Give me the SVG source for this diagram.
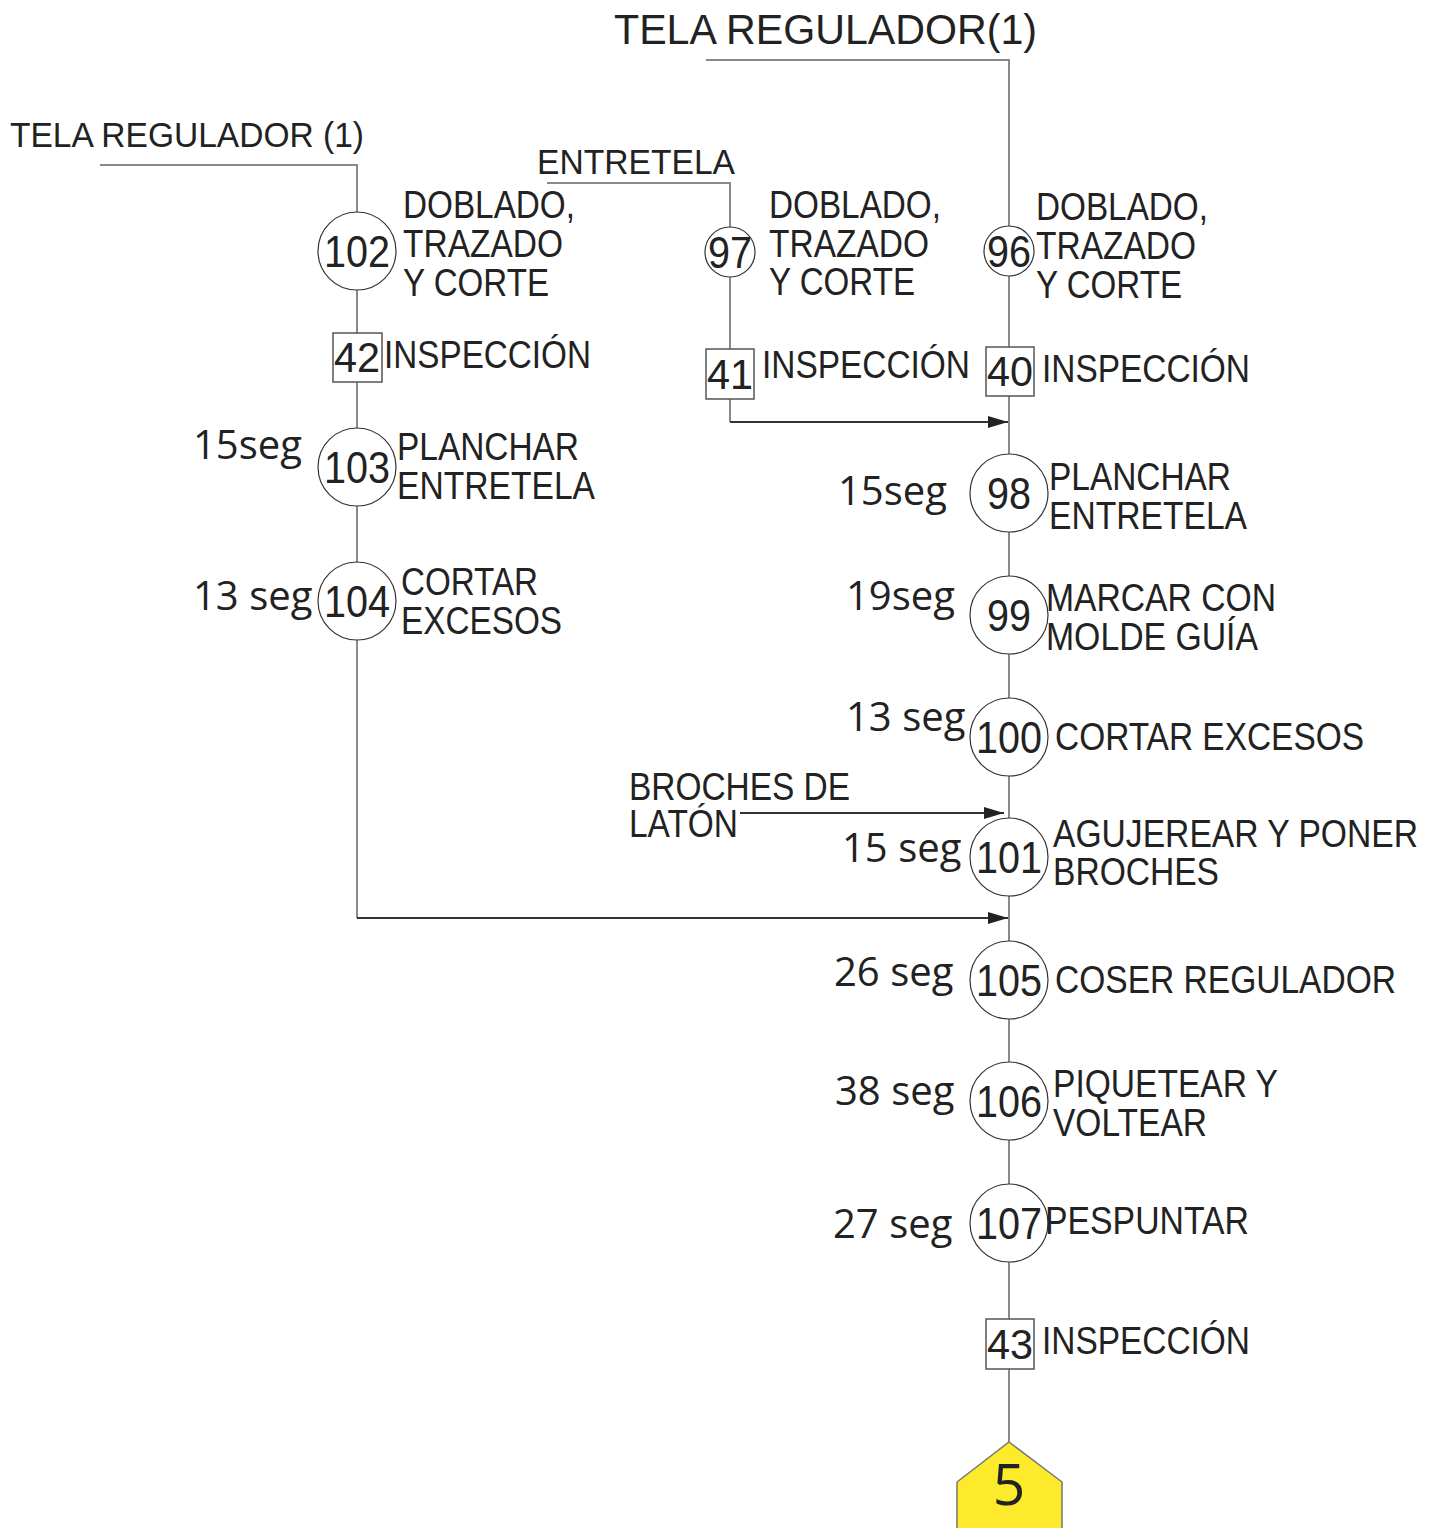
<svg xmlns="http://www.w3.org/2000/svg" width="1438" height="1528" viewBox="0 0 1438 1528">
<style>
.ln{fill:none;stroke:#8a8a8a;stroke-width:2}
.ar{fill:none;stroke:#333;stroke-width:2}
.op circle{fill:#fff;stroke:#333;stroke-width:1.2}
.op rect{fill:#fff;stroke:#555;stroke-width:1.5}
.lbl{font-family:"Liberation Sans",Arial,sans-serif;font-size:38px;fill:#222}
.num{font-family:"Liberation Sans",Arial,sans-serif;font-size:45px;fill:#222;text-anchor:middle}
.bx{font-family:"Liberation Sans",Arial,sans-serif;font-size:42px;fill:#222;text-anchor:middle}
.seg{font-family:"Open Sans",sans-serif;font-size:40px;fill:#222}
</style>
<defs>
<marker id="ah" markerUnits="userSpaceOnUse" viewBox="0 0 20 12" refX="20" refY="6" markerWidth="20" markerHeight="12" orient="auto">
<path d="M0,0 L20,6 L0,12 z" fill="#222"/>
</marker>
</defs>
<rect width="1438" height="1528" fill="#fff"/>
<g id="connectors">
<path class="ln" d="M706,60 H1009 V1442"/>
<path class="ln" d="M100,165 H357 V918"/>
<path class="ar" d="M357,918 H1008" marker-end="url(#ah)"/>
<path class="ln" d="M547,183 H730 V422"/>
<path class="ar" d="M730,422 H1008" marker-end="url(#ah)"/>
<path class="ar" d="M740,813 H1004" marker-end="url(#ah)"/>
</g>
<g id="inputs">
<text class="lbl" x="614" y="44" style="font-size:42px" textLength="423" lengthAdjust="spacingAndGlyphs">TELA REGULADOR(1)</text>
<text class="lbl" x="10" y="147" style="font-size:35px" textLength="354" lengthAdjust="spacingAndGlyphs">TELA REGULADOR (1)</text>
<text class="lbl" x="537" y="174" style="font-size:35px" textLength="198" lengthAdjust="spacingAndGlyphs">ENTRETELA</text>
<text class="lbl" x="629" y="800" textLength="221" lengthAdjust="spacingAndGlyphs">BROCHES DE</text>
<text class="lbl" x="629" y="837" textLength="109" lengthAdjust="spacingAndGlyphs">LATÓN</text>
</g>
<g id="n102" class="op">
<circle cx="357" cy="251" r="39"/>
<text class="num" x="357" y="267" textLength="66" lengthAdjust="spacingAndGlyphs">102</text>
<text class="lbl" x="403" y="218" textLength="172" lengthAdjust="spacingAndGlyphs">DOBLADO,</text>
<text class="lbl" x="403" y="257" textLength="160" lengthAdjust="spacingAndGlyphs">TRAZADO</text>
<text class="lbl" x="403" y="296" textLength="146" lengthAdjust="spacingAndGlyphs">Y CORTE</text>
</g>
<g id="n97" class="op">
<circle cx="730" cy="252" r="25"/>
<text class="num" x="730" y="268" textLength="44" lengthAdjust="spacingAndGlyphs">97</text>
<text class="lbl" x="769" y="218" textLength="172" lengthAdjust="spacingAndGlyphs">DOBLADO,</text>
<text class="lbl" x="769" y="257" textLength="160" lengthAdjust="spacingAndGlyphs">TRAZADO</text>
<text class="lbl" x="769" y="295" textLength="146" lengthAdjust="spacingAndGlyphs">Y CORTE</text>
</g>
<g id="n96" class="op">
<circle cx="1009" cy="251" r="25"/>
<text class="num" x="1009" y="267" textLength="44" lengthAdjust="spacingAndGlyphs">96</text>
<text class="lbl" x="1036" y="220" textLength="172" lengthAdjust="spacingAndGlyphs">DOBLADO,</text>
<text class="lbl" x="1036" y="259" textLength="160" lengthAdjust="spacingAndGlyphs">TRAZADO</text>
<text class="lbl" x="1036" y="298" textLength="146" lengthAdjust="spacingAndGlyphs">Y CORTE</text>
</g>
<g id="i42" class="op">
<rect x="333" y="333" width="49" height="49"/>
<text class="bx" x="357" y="372" textLength="46" lengthAdjust="spacingAndGlyphs">42</text>
<text class="lbl" x="384" y="368" textLength="207" lengthAdjust="spacingAndGlyphs">INSPECCIÓN</text>
</g>
<g id="i41" class="op">
<rect x="706" y="349" width="48" height="50"/>
<text class="bx" x="730" y="389" textLength="46" lengthAdjust="spacingAndGlyphs">41</text>
<text class="lbl" x="762" y="378" textLength="208" lengthAdjust="spacingAndGlyphs">INSPECCIÓN</text>
</g>
<g id="i40" class="op">
<rect x="986" y="347" width="48" height="49"/>
<text class="bx" x="1010" y="386" textLength="46" lengthAdjust="spacingAndGlyphs">40</text>
<text class="lbl" x="1042" y="382" textLength="208" lengthAdjust="spacingAndGlyphs">INSPECCIÓN</text>
</g>
<g id="n103" class="op">
<circle cx="357" cy="467" r="39"/>
<text class="num" x="357" y="483" textLength="66" lengthAdjust="spacingAndGlyphs">103</text>
<text class="lbl" x="397" y="460" textLength="182" lengthAdjust="spacingAndGlyphs">PLANCHAR</text>
<text class="lbl" x="397" y="499" textLength="198" lengthAdjust="spacingAndGlyphs">ENTRETELA</text>
<text class="seg" x="193" y="459">15seg</text>
</g>
<g id="n104" class="op">
<circle cx="357" cy="601" r="39"/>
<text class="num" x="357" y="617" textLength="66" lengthAdjust="spacingAndGlyphs">104</text>
<text class="lbl" x="401" y="595" textLength="137" lengthAdjust="spacingAndGlyphs">CORTAR</text>
<text class="lbl" x="401" y="634" textLength="161" lengthAdjust="spacingAndGlyphs">EXCESOS</text>
<text class="seg" x="193" y="610">13 seg</text>
</g>
<g id="n98" class="op">
<circle cx="1009" cy="493" r="39"/>
<text class="num" x="1009" y="509" textLength="44" lengthAdjust="spacingAndGlyphs">98</text>
<text class="lbl" x="1049" y="490" textLength="182" lengthAdjust="spacingAndGlyphs">PLANCHAR</text>
<text class="lbl" x="1049" y="529" textLength="198" lengthAdjust="spacingAndGlyphs">ENTRETELA</text>
<text class="seg" x="838" y="505">15seg</text>
</g>
<g id="n99" class="op">
<circle cx="1009" cy="615" r="39"/>
<text class="num" x="1009" y="631" textLength="44" lengthAdjust="spacingAndGlyphs">99</text>
<text class="lbl" x="1046" y="611" textLength="230" lengthAdjust="spacingAndGlyphs">MARCAR CON</text>
<text class="lbl" x="1046" y="650" textLength="212" lengthAdjust="spacingAndGlyphs">MOLDE GUÍA</text>
<text class="seg" x="846" y="610">19seg</text>
</g>
<g id="n100" class="op">
<circle cx="1009" cy="737" r="39"/>
<text class="num" x="1009" y="753" textLength="66" lengthAdjust="spacingAndGlyphs">100</text>
<text class="lbl" x="1055" y="750" textLength="309" lengthAdjust="spacingAndGlyphs">CORTAR EXCESOS</text>
<text class="seg" x="846" y="731">13 seg</text>
</g>
<g id="n101" class="op">
<circle cx="1009" cy="857" r="39"/>
<text class="num" x="1009" y="873" textLength="66" lengthAdjust="spacingAndGlyphs">101</text>
<text class="lbl" x="1053" y="847" textLength="365" lengthAdjust="spacingAndGlyphs">AGUJEREAR Y PONER</text>
<text class="lbl" x="1053" y="885" textLength="166" lengthAdjust="spacingAndGlyphs">BROCHES</text>
<text class="seg" x="842" y="862">15 seg</text>
</g>
<g id="n105" class="op">
<circle cx="1009" cy="980" r="39"/>
<text class="num" x="1009" y="996" textLength="66" lengthAdjust="spacingAndGlyphs">105</text>
<text class="lbl" x="1055" y="993" textLength="341" lengthAdjust="spacingAndGlyphs">COSER REGULADOR</text>
<text class="seg" x="834" y="986">26 seg</text>
</g>
<g id="n106" class="op">
<circle cx="1009" cy="1101" r="39"/>
<text class="num" x="1009" y="1117" textLength="66" lengthAdjust="spacingAndGlyphs">106</text>
<text class="lbl" x="1053" y="1097" textLength="225" lengthAdjust="spacingAndGlyphs">PIQUETEAR Y</text>
<text class="lbl" x="1053" y="1136" textLength="154" lengthAdjust="spacingAndGlyphs">VOLTEAR</text>
<text class="seg" x="835" y="1105">38 seg</text>
</g>
<g id="n107" class="op">
<circle cx="1009" cy="1223" r="39"/>
<text class="num" x="1009" y="1239" textLength="66" lengthAdjust="spacingAndGlyphs">107</text>
<text class="lbl" x="1045" y="1234" textLength="204" lengthAdjust="spacingAndGlyphs">PESPUNTAR</text>
<text class="seg" x="833" y="1238">27 seg</text>
</g>
<g id="i43" class="op">
<rect x="986" y="1319" width="48" height="50"/>
<text class="bx" x="1010" y="1359" textLength="46" lengthAdjust="spacingAndGlyphs">43</text>
<text class="lbl" x="1042" y="1354" textLength="208" lengthAdjust="spacingAndGlyphs">INSPECCIÓN</text>
</g>
<g id="c5">
<polygon points="1009,1442 1062,1482 1062,1532 957,1532 957,1482" fill="#fdea2b" stroke="#777" stroke-width="1.5"/>
<text x="1009" y="1505" text-anchor="middle" style="font-family:'Open Sans',sans-serif;font-size:57px;fill:#222">5</text>
</g>
</svg>
